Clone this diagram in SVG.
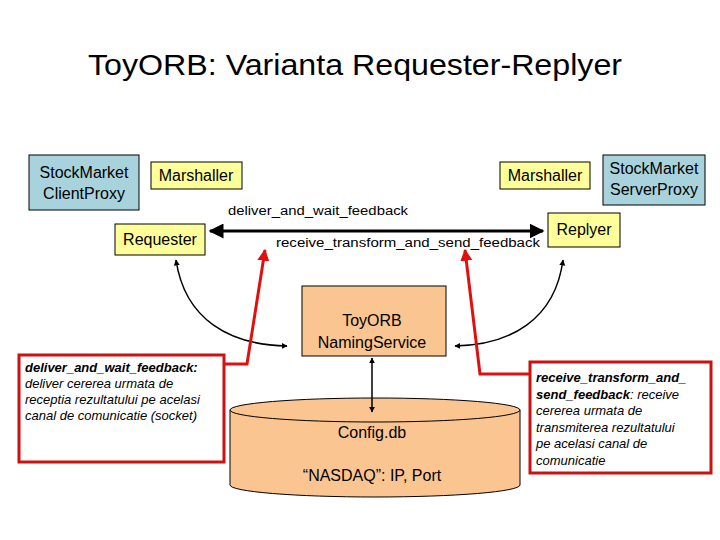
<svg xmlns="http://www.w3.org/2000/svg" width="720" height="540" viewBox="0 0 720 540">
<defs>
<style>
text{font-family:"Liberation Sans",Arial,sans-serif;fill:#000}
.y{fill:#FFFF99;stroke:#000;stroke-width:1}
.b{fill:#A9D3DC;stroke:#000;stroke-width:1}
.o{fill:#FAC591;stroke:#000;stroke-width:1}
.n{font-size:16px;text-anchor:middle}
.note{fill:#fff;stroke:#CC1111;stroke-width:3}
.it{font-size:13px;font-style:italic}
.blk{fill:none;stroke:#000;stroke-width:1.5}
.red{fill:none;stroke:#E01010;stroke-width:3}
</style>
<marker id="ah" viewBox="0 0 10 10" refX="9" refY="5" markerWidth="5" markerHeight="5" orient="auto-start-reverse"><path d="M0,0L10,5L0,10z" fill="#000"/></marker>
<marker id="ahb" viewBox="0 0 10 10" refX="9" refY="5" markerWidth="4" markerHeight="4" orient="auto-start-reverse"><path d="M0,0L10,5L0,10z" fill="#000"/></marker>
<marker id="ahr" viewBox="0 0 10 10" refX="9" refY="5" markerWidth="4" markerHeight="4" orient="auto"><path d="M0,0L10,5L0,10z" fill="#E01010"/></marker>
</defs>
<rect width="720" height="540" fill="#fff"/>
<text x="355" y="75" font-size="30" text-anchor="middle" textLength="534" lengthAdjust="spacingAndGlyphs">ToyORB: Varianta Requester-Replyer</text>

<g id="clientproxy"><rect class="b" x="29" y="155" width="110" height="55"/><text class="n" x="84" y="178">StockMarket</text><text class="n" x="84" y="199">ClientProxy</text></g>
<g id="marshaller-l"><rect class="y" x="151" y="162" width="91" height="27"/><text class="n" x="196" y="181">Marshaller</text></g>
<g id="marshaller-r"><rect class="y" x="500" y="162" width="90" height="27"/><text class="n" x="545" y="181">Marshaller</text></g>
<g id="serverproxy"><rect class="b" x="603" y="155" width="102" height="50"/><text class="n" x="654" y="174">StockMarket</text><text class="n" x="654" y="195">ServerProxy</text></g>
<g id="requester"><rect class="y" x="115" y="224" width="90" height="31"/><text class="n" x="160" y="245">Requester</text></g>
<g id="replyer"><rect class="y" x="548" y="213" width="72" height="34"/><text class="n" x="584" y="235">Replyer</text></g>
<g id="naming"><rect class="o" x="302" y="286" width="144" height="70"/><text class="n" x="372" y="326">ToyORB</text><text class="n" x="372" y="348">NamingService</text></g>
<g id="configdb">
<path class="o" d="M230,410 L230,485 A145,12 0 0 0 520,485 L520,410"/>
<ellipse class="o" cx="375" cy="410" rx="145" ry="12"/>
<text class="n" x="372" y="438">Config.db</text>
<text class="n" x="372" y="481">“NASDAQ”: IP, Port</text>
</g>
<g id="note-left"><rect class="note" x="19" y="355" width="205" height="107"/>
<text class="it" x="25" y="372" font-weight="bold">deliver_and_wait_feedback:</text>
<text class="it" x="25" y="388">deliver cererea urmata de</text>
<text class="it" x="25" y="404">receptia rezultatului pe acelasi</text>
<text class="it" x="25" y="420">canal de comunicatie (socket)</text></g>
<g id="note-right"><rect class="note" x="530" y="362" width="181" height="111"/>
<text class="it" x="536" y="382" font-weight="bold">receive_transform_and_</text>
<text class="it" x="536" y="399"><tspan font-weight="bold">send_feedback</tspan>: receive</text>
<text class="it" x="536" y="415">cererea urmata de</text>
<text class="it" x="536" y="432">transmiterea rezultatului</text>
<text class="it" x="536" y="448">pe acelasi canal de</text>
<text class="it" x="536" y="465">comunicatie</text></g>

<g id="connectors">
<line x1="210" y1="231" x2="543" y2="231" stroke="#000" stroke-width="3" marker-start="url(#ah)" marker-end="url(#ah)"/>
<text x="228" y="215" font-size="12" textLength="180" lengthAdjust="spacingAndGlyphs">deliver_and_wait_feedback</text>
<text x="276" y="247" font-size="12" textLength="264" lengthAdjust="spacingAndGlyphs">receive_transform_and_send_feedback</text>
<path class="blk" d="M176,260 C185,320 230,345 287,346" marker-start="url(#ahb)" marker-end="url(#ahb)"/>
<path class="blk" d="M563,260 C555,320 510,345 455,346" marker-start="url(#ahb)" marker-end="url(#ahb)"/>
<line class="blk" x1="372" y1="358" x2="372" y2="412" marker-start="url(#ahb)" marker-end="url(#ahb)"/>
<path class="red" d="M224,364 L247,364 L265,250" marker-end="url(#ahr)"/>
<path class="red" d="M530,374 L480,374 L465,250" marker-end="url(#ahr)"/>
</g>
</svg>
